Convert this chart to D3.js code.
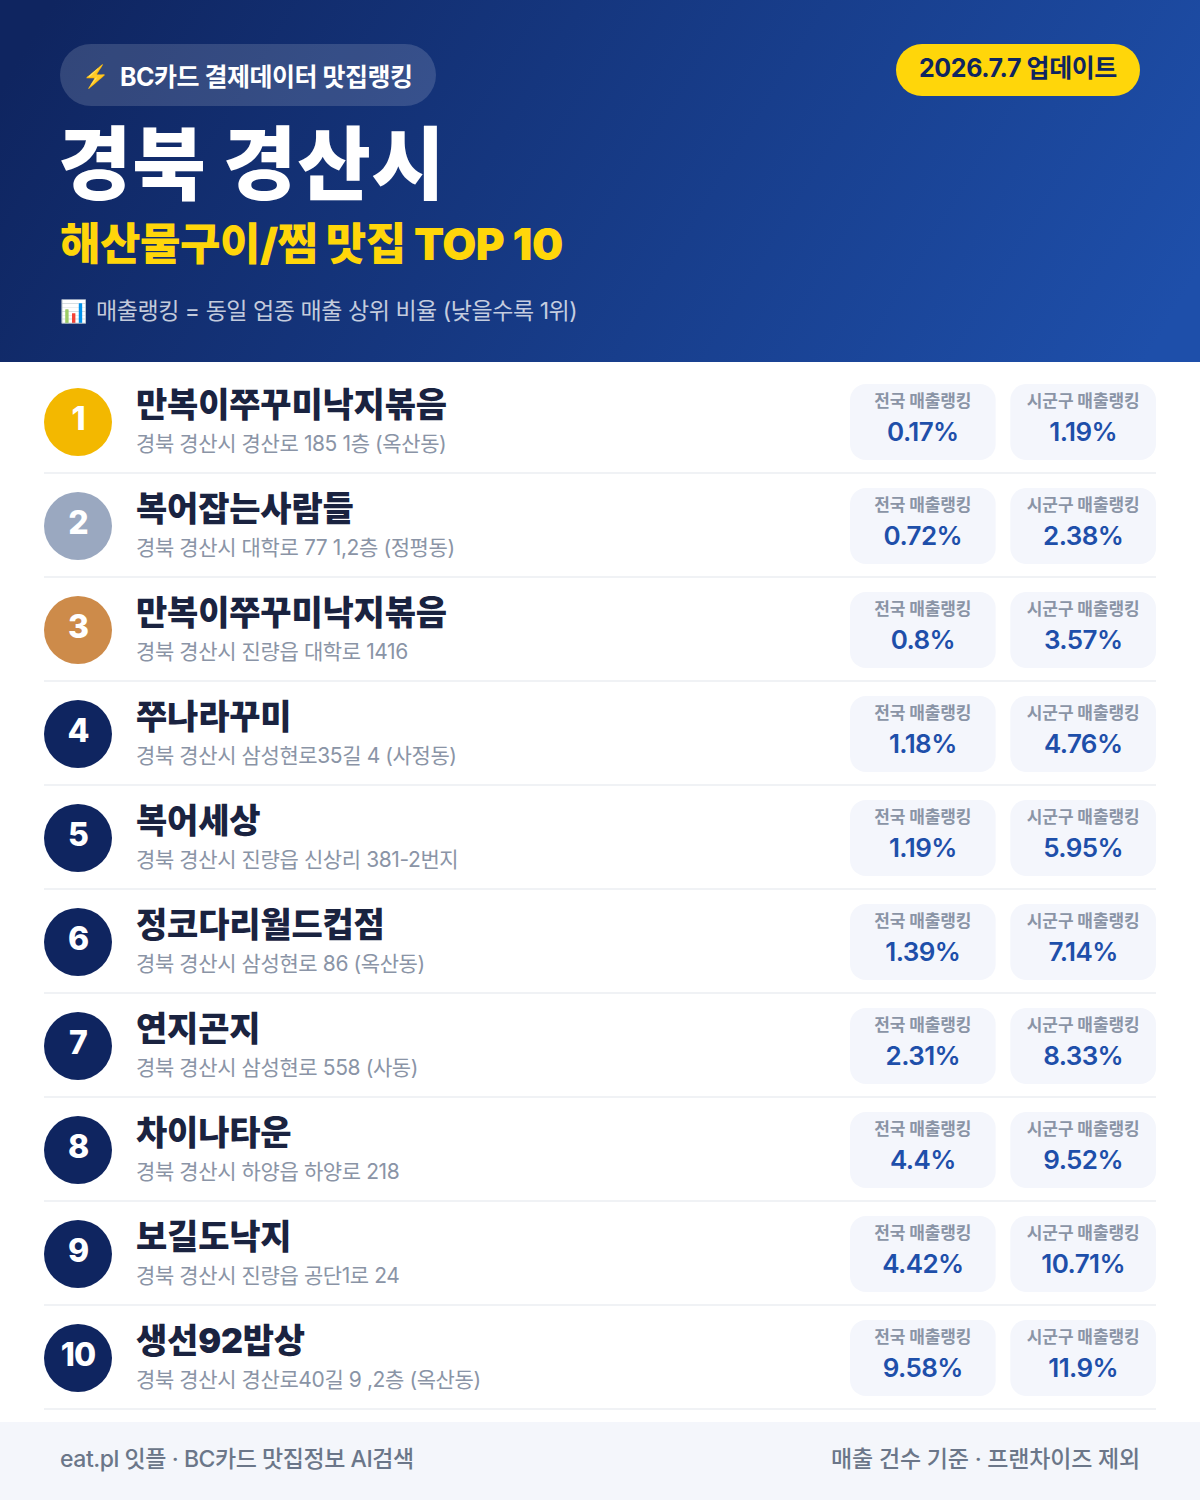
<!DOCTYPE html>
<html lang="ko">
<head>
<meta charset="utf-8">
<script src="https://cdn.jsdelivr.net/npm/d3@7"></script>
<style>
html, body { margin: 0; padding: 0; background: #fff; }
svg { display: block; }
text { font-family: Inter, "Noto Sans CJK KR", sans-serif; }
</style>
</head>
<body>
<div id="graph"></div>
<script>
const ranks = [1, 2, 3, 4, 5, 6, 7, 8, 9, 10];
const names = ["만복이쭈꾸미낙지볶음", "복어잡는사람들", "만복이쭈꾸미낙지볶음", "쭈나라꾸미", "복어세상",
	"정코다리월드컵점", "연지곤지", "차이나타운", "보길도낙지", "생선92밥상"];
const addresses = ["경북 경산시 경산로 185 1층 (옥산동)", "경북 경산시 대학로 77 1,2층 (정평동)",
	"경북 경산시 진량읍 대학로 1416", "경북 경산시 삼성현로35길 4 (사정동)", "경북 경산시 진량읍 신상리 381-2번지",
	"경북 경산시 삼성현로 86 (옥산동)", "경북 경산시 삼성현로 558 (사동)", "경북 경산시 하양읍 하양로 218",
	"경북 경산시 진량읍 공단1로 24", "경북 경산시 경산로40길 9 ,2층 (옥산동)"];
const national = [0.17, 0.72, 0.8, 1.18, 1.19, 1.39, 2.31, 4.4, 4.42, 9.58];
const district = [1.19, 2.38, 3.57, 4.76, 5.95, 7.14, 8.33, 9.52, 10.71, 11.9];
const statLabels = ["전국 매출랭킹", "시군구 매출랭킹"];

const width = 1200;
const height = 1500;

const svg = d3
	.select("#graph")
	.append("svg")
	.attr("width", width)
	.attr("height", height)
	.attr("viewBox", [0, 0, width, height]);

const grad = svg
	.append("defs")
	.append("linearGradient")
	.attr("id", "head")
	.attr("gradientUnits", "userSpaceOnUse")
	.attr("x1", 120)
	.attr("y1", -110)
	.attr("x2", 1080)
	.attr("y2", 470);
grad.append("stop").attr("offset", 0).attr("stop-color", "#0f2560");
grad.append("stop").attr("offset", 1).attr("stop-color", "#1e4faa");

// header
const head = svg.append("g");
head.append("rect").attr("width", width).attr("height", 362).attr("fill", "url(#head)");
head.append("rect").attr("x", 60).attr("y", 44).attr("width", 376).attr("height", 62).attr("rx", 31)
	.attr("fill", "#fff").attr("fill-opacity", 0.15);
head.append("text").attr("x", 82).attr("y", 84).attr("font-size", 22).text("⚡");
head.append("text").attr("x", 120).attr("y", 86).attr("font-size", 25).attr("font-weight", 700)
	.attr("fill", "#fff").attr("letter-spacing", -0.5).text("BC카드 결제데이터 맛집랭킹");
head.append("rect").attr("x", 896).attr("y", 44).attr("width", 244).attr("height", 52).attr("rx", 26)
	.attr("fill", "#ffd60a");
head.append("text").attr("x", 1018).attr("y", 77).attr("text-anchor", "middle").attr("font-size", 25)
	.attr("font-weight", 700).attr("fill", "#0f2560").attr("letter-spacing", -0.4).text("2026.7.7 업데이트");
head.append("text").attr("x", 58).attr("y", 193).attr("font-size", 80).attr("font-weight", 900)
	.attr("fill", "#fff").attr("letter-spacing", 0.6).text("경북 경산시");
head.append("text").attr("x", 60).attr("y", 260).attr("font-size", 44).attr("font-weight", 900)
	.attr("fill", "#ffd60a").attr("letter-spacing", -0.5).text("해산물구이/찜 맛집 TOP 10");
head.append("text").attr("x", 60).attr("y", 319).attr("font-size", 22).text("📊");
head.append("text").attr("x", 96).attr("y", 319).attr("font-size", 23).attr("font-weight", 400)
	.attr("fill", "#fff").attr("fill-opacity", 0.75).attr("letter-spacing", -0.45)
	.text("매출랭킹 = 동일 업종 매출 상위 비율 (낮을수록 1위)");

// rows
const yScale = d3.scaleBand(ranks, [370, 1410]);
const rankColor = d3.scaleOrdinal([1, 2, 3], ["#f3b800", "#9aa8c0", "#cd8b4a"]).unknown("#0f2560");
const statX = d3.scaleBand([0, 1], [850, 1156]).paddingInner(14 / 153);

const row = svg
	.append("g")
	.selectAll("g")
	.data(ranks)
	.join("g")
	.attr("transform", (d) => `translate(0,${yScale(d)})`);

row.append("line").attr("x1", 44).attr("x2", 1156).attr("y1", 103).attr("y2", 103)
	.attr("stroke", "#f0f2f5").attr("stroke-width", 2);
row.append("circle").attr("cx", 78).attr("cy", 52).attr("r", 34).attr("fill", (d) => rankColor(d));
row.append("text").attr("x", 78).attr("y", 60).attr("text-anchor", "middle").attr("font-size", 32)
	.attr("font-weight", 800).attr("fill", "#fff").attr("letter-spacing", -1).text((d) => d);
row.append("text").attr("x", 136).attr("y", 47).attr("font-size", 34).attr("font-weight", 900)
	.attr("fill", "#1a2340").attr("letter-spacing", -0.2).text((d, i) => names[i]);
row.append("text").attr("x", 136).attr("y", 81).attr("font-size", 21).attr("font-weight", 400)
	.attr("fill", "#8a94a6").attr("letter-spacing", -0.4).text((d, i) => addresses[i]);

[national, district].forEach((values, k) => {
	const stat = row.append("g").attr("transform", `translate(${statX(k)},14)`);
	stat.append("rect").attr("width", statX.bandwidth()).attr("height", 76).attr("rx", 16).attr("fill", "#f4f6fc");
	stat.append("text").attr("x", statX.bandwidth() / 2).attr("y", 23).attr("text-anchor", "middle")
		.attr("font-size", 17).attr("font-weight", 700).attr("fill", "#8a94a6").attr("letter-spacing", -0.1)
		.text(statLabels[k]);
	stat.append("text").attr("x", statX.bandwidth() / 2).attr("y", 57).attr("text-anchor", "middle")
		.attr("font-size", 26).attr("font-weight", 600).attr("fill", "#1e4faa").attr("letter-spacing", -0.6)
		.text((d, i) => values[i] + "%");
});

// footer
const foot = svg.append("g");
foot.append("rect").attr("y", 1422).attr("width", width).attr("height", 78).attr("fill", "#f4f6fb");
foot.append("text").attr("x", 60).attr("y", 1467).attr("font-size", 23).attr("font-weight", 500)
	.attr("fill", "#6b7689").attr("letter-spacing", -0.45).text("eat.pl 잇플 · BC카드 맛집정보 AI검색");
foot.append("text").attr("x", 1140).attr("y", 1467).attr("text-anchor", "end").attr("font-size", 23)
	.attr("font-weight", 500).attr("fill", "#6b7689").attr("letter-spacing", -0.2)
	.text("매출 건수 기준 · 프랜차이즈 제외");
</script>
</body>
</html>
